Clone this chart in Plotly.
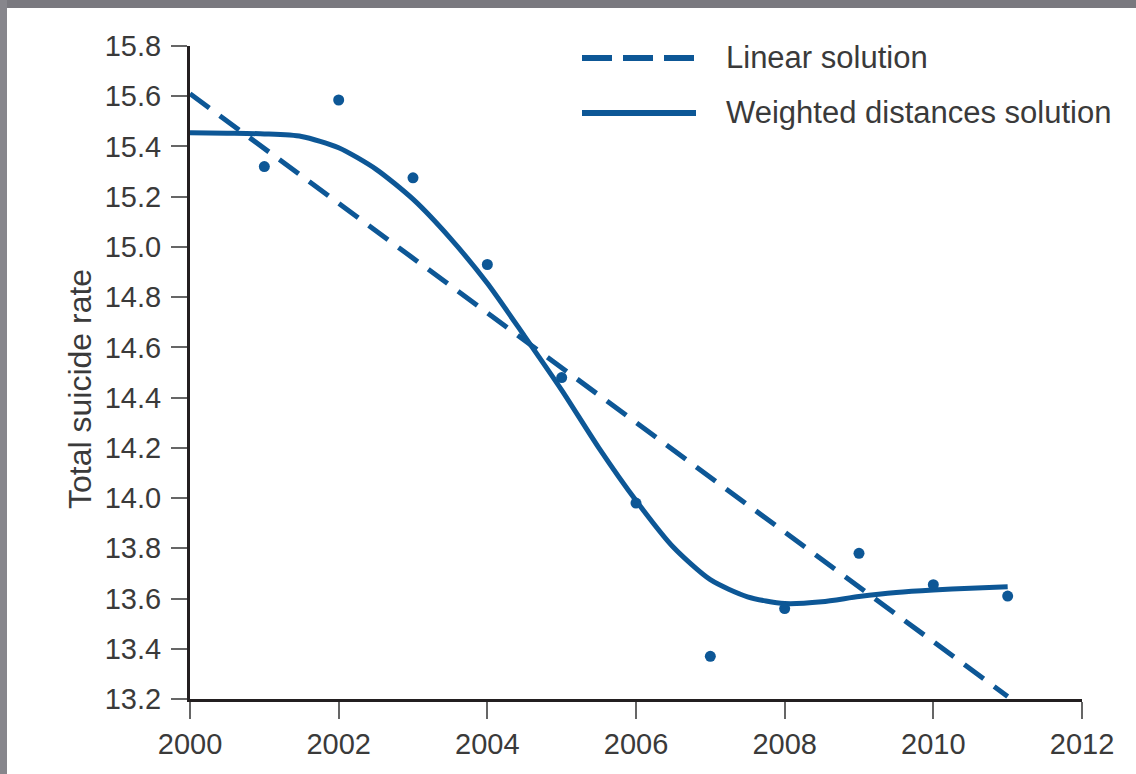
import plotly.graph_objects as go

# Observed yearly suicide rates (dots)
obs_years = [2001, 2002, 2003, 2004, 2005, 2006, 2007, 2008, 2009, 2010, 2011]
obs_rates = [15.32, 15.585, 15.275, 14.93, 14.48, 13.98, 13.37, 13.56, 13.78, 13.655, 13.61]

# Linear solution
lin_years = [2000, 2011]
lin_rates = [15.61, 13.21]

# Weighted distances solution (smooth curve)
wd_years = [2000, 2000.5, 2001, 2001.5, 2002, 2002.5, 2003, 2003.5, 2004, 2004.5,
            2005, 2005.5, 2006, 2006.5, 2007, 2007.5, 2008, 2008.5, 2009, 2009.5,
            2010, 2010.5, 2011]
wd_rates = [15.455, 15.453, 15.45, 15.44, 15.395, 15.31, 15.19, 15.035, 14.855, 14.645,
            14.43, 14.2, 13.99, 13.805, 13.675, 13.607, 13.58, 13.587, 13.608, 13.624,
            13.634, 13.641, 13.647]

x_ticks = [2000, 2002, 2004, 2006, 2008, 2010, 2012]
y_ticks = [13.2, 13.4, 13.6, 13.8, 14.0, 14.2, 14.4, 14.6, 14.8, 15.0, 15.2, 15.4, 15.6, 15.8]

BLUE = "#0d5796"
TEXT = "#3a3a3a"
FONT = "Liberation Sans, Arial, sans-serif"

fig = go.Figure()
fig.add_trace(go.Scatter(x=lin_years, y=lin_rates, mode="lines",
                         line=dict(color=BLUE, width=5, dash="24px,13px"),
                         showlegend=False, hoverinfo="skip"))
fig.add_trace(go.Scatter(x=wd_years, y=wd_rates, mode="lines",
                         line=dict(color=BLUE, width=5, shape="spline", smoothing=0.7),
                         showlegend=False, hoverinfo="skip"))
fig.add_trace(go.Scatter(x=obs_years, y=obs_rates, mode="markers",
                         marker=dict(color=BLUE, size=11),
                         showlegend=False, hoverinfo="skip"))

L, R, T, B = 190, 1082, 46, 699
W, H = 1136, 774
def px(x):
    return (x - L) / (R - L)
def py(y):
    return (B - y) / (B - T)

shapes = [
    # gray frame bands
    dict(type="rect", xref="paper", yref="paper", x0=px(0), x1=px(W), y0=py(8), y1=py(0),
         fillcolor="#7a797f", line=dict(width=0), layer="below"),
    dict(type="rect", xref="paper", yref="paper", x0=px(0), x1=px(7), y0=py(H), y1=py(0),
         fillcolor="#87868c", line=dict(width=0), layer="below"),
    # legend samples
    dict(type="line", xref="paper", yref="paper", x0=px(582), x1=px(696), y0=py(58), y1=py(58),
         line=dict(color=BLUE, width=6, dash="30px,11px")),
    dict(type="line", xref="paper", yref="paper", x0=px(582), x1=px(696), y0=py(113), y1=py(113),
         line=dict(color=BLUE, width=6)),
]
annotations = [
    dict(xref="paper", yref="paper", x=px(724), y=py(58), text="Linear solution",
         showarrow=False, xanchor="left", yanchor="middle",
         font=dict(family=FONT, size=31, color=TEXT)),
    dict(xref="paper", yref="paper", x=px(724), y=py(113), text="Weighted distances solution",
         showarrow=False, xanchor="left", yanchor="middle",
         font=dict(family=FONT, size=31, color=TEXT)),
    dict(xref="paper", yref="paper", x=px(80), y=py(389), text="Total suicide rate",
         textangle=-90, showarrow=False, xanchor="center", yanchor="middle",
         font=dict(family=FONT, size=32, color=TEXT)),
]

fig.update_layout(
    width=W, height=H,
    margin=dict(l=L, r=W - R, t=T, b=H - B, pad=0),
    paper_bgcolor="white", plot_bgcolor="white",
    font=dict(family=FONT, color=TEXT, size=29),
    shapes=shapes, annotations=annotations,
    showlegend=False,
)
fig.update_xaxes(range=[2000, 2012], tickvals=x_ticks, ticktext=[str(v) for v in x_ticks],
                 showgrid=False, zeroline=False, showline=True, linecolor="#231f20", linewidth=3,
                 ticks="outside", ticklen=17, tickwidth=2, tickcolor="#666666",
                 tickfont=dict(size=29, color=TEXT))
fig.update_yaxes(range=[13.2, 15.8], tickvals=y_ticks, ticktext=[f"{v:.1f}" for v in y_ticks],
                 showgrid=False, zeroline=False, showline=True, linecolor="#231f20", linewidth=3,
                 ticks="outside", ticklen=16, tickwidth=2, tickcolor="#666666",
                 ticklabelstandoff=4,
                 tickfont=dict(size=29, color=TEXT))

fig.write_html("out.html", config={"displayModeBar": False},
               post_script="document.body.style.margin='0px';")
